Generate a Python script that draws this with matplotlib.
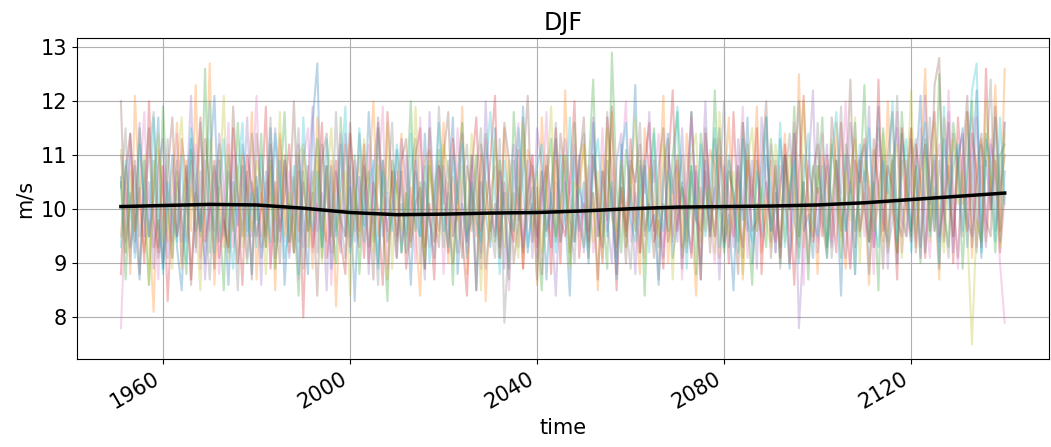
import numpy as np
import matplotlib
matplotlib.use("Agg")
from matplotlib import pyplot as plt

# DJF mean wind speed, one series per ensemble member (m/s), 1951-2140
start_year = 1951

member1 = [10.6, 9.2, 11.4, 9.8, 8.7, 10.9, 9.5, 10.2, 11.7, 8.9,
           9.9, 11.0, 9.3, 8.5, 10.4, 11.3, 9.6, 10.0, 9.0, 10.8,
           12.1, 9.4, 10.1, 8.6, 10.5, 9.7, 11.2, 10.3, 8.8, 10.6,
           9.1, 9.8, 11.5, 9.4, 10.9, 8.6, 10.1, 9.2, 11.0, 9.9,
           8.8, 11.6, 12.7, 9.3, 10.8, 8.9, 9.8, 11.2, 9.5, 10.4,
           8.3, 10.6, 9.7, 11.8, 10.1, 9.0, 10.9, 9.4, 9.9, 11.1,
           9.2, 10.3, 8.6, 10.7, 9.5, 11.4, 9.8, 9.1, 10.8, 9.6,
           10.4, 11.7, 8.8, 10.1, 9.4, 11.0, 8.5, 10.5, 9.9, 9.3,
           11.5, 9.6, 10.3, 8.9, 10.9, 9.8, 11.9, 9.2, 10.1, 9.5,
           10.7, 8.7, 10.4, 11.3, 9.4, 9.9, 8.4, 11.0, 9.6, 10.5,
           9.0, 11.6, 9.8, 9.3, 10.9, 10.1, 8.8, 11.2, 9.5, 10.3,
           12.3, 9.2, 10.8, 9.6, 9.9, 8.6, 10.7, 11.4, 9.1, 9.8,
           10.5, 9.4, 11.8, 10.1, 8.7, 10.9, 9.6, 10.4, 11.5, 9.3,
           9.9, 8.5, 10.8, 9.8, 11.7, 9.0, 10.1, 9.5, 11.0, 10.4,
           9.2, 11.3, 10.3, 8.9, 10.7, 12.0, 9.6, 9.9, 9.1, 10.8,
           10.1, 9.3, 11.2, 10.5, 8.4, 11.0, 10.3, 11.6, 9.5, 10.7,
           8.8, 10.4, 11.9, 9.8, 9.4, 10.9, 9.0, 11.4, 10.5, 9.6,
           10.7, 12.1, 9.2, 10.3, 11.0, 8.9, 11.3, 10.4, 9.5, 10.8,
           11.5, 9.3, 10.6, 12.2, 9.1, 10.9, 10.0, 11.7, 9.4, 10.7]

member2 = [9.5, 10.8, 8.8, 12.1, 10.1, 9.2, 9.8, 8.1, 11.1, 10.3,
           9.4, 10.5, 11.6, 8.9, 10.9, 9.6, 12.3, 9.1, 10.0, 12.7,
           8.6, 10.4, 9.3, 11.2, 9.8, 9.0, 11.0, 10.1, 11.8, 8.7,
           10.3, 9.5, 10.8, 8.5, 11.4, 10.0, 9.2, 10.6, 9.6, 11.1,
           10.4, 8.9, 11.7, 9.8, 9.4, 10.9, 8.2, 10.3, 11.2, 9.3,
           10.1, 11.0, 9.1, 10.5, 12.0, 9.5, 10.0, 8.7, 10.7, 10.3,
           11.4, 9.2, 10.4, 9.6, 8.4, 10.9, 11.1, 9.4, 10.1, 11.6,
           9.0, 10.6, 9.8, 11.9, 8.8, 10.5, 9.5, 11.0, 8.3, 10.3,
           10.8, 9.1, 11.5, 10.0, 9.6, 10.4, 8.9, 11.1, 10.7, 8.6,
           11.7, 10.1, 9.3, 10.9, 9.0, 12.2, 9.8, 9.4, 10.5, 11.2,
           9.1, 10.3, 8.5, 11.0, 10.0, 11.8, 9.2, 10.4, 9.5, 10.8,
           9.8, 8.8, 11.5, 10.7, 9.6, 10.1, 12.1, 9.0, 10.5, 10.9,
           9.3, 11.4, 10.0, 8.4, 10.4, 9.6, 11.1, 10.8, 9.1, 10.3,
           11.7, 9.5, 10.7, 8.7, 11.0, 10.1, 11.9, 9.2, 10.0, 10.9,
           9.4, 10.4, 11.4, 9.0, 9.8, 12.5, 9.3, 10.8, 10.3, 8.8,
           11.0, 10.5, 9.5, 11.6, 9.8, 8.9, 10.7, 11.3, 9.6, 10.3,
           8.6, 11.1, 10.4, 9.4, 12.0, 10.1, 9.2, 10.9, 10.0, 11.5,
           9.3, 10.8, 12.6, 9.6, 10.3, 8.7, 11.7, 10.7, 9.5, 11.0,
           10.1, 11.8, 9.1, 10.9, 11.3, 9.4, 10.5, 12.3, 9.6, 12.6]

member3 = [10.5, 8.7, 10.3, 9.4, 11.5, 10.0, 8.6, 10.9, 9.3, 11.9,
           10.1, 9.1, 10.7, 9.8, 8.8, 11.1, 10.4, 9.5, 12.6, 9.2,
           10.8, 10.0, 8.5, 11.0, 9.6, 11.6, 10.1, 9.0, 10.5, 9.8,
           11.4, 9.3, 10.9, 8.9, 10.3, 11.8, 9.4, 10.0, 8.4, 10.7,
           9.6, 10.4, 11.3, 9.1, 10.8, 9.8, 9.0, 11.7, 10.1, 9.5,
           11.0, 8.8, 10.3, 10.7, 9.4, 11.5, 9.8, 8.3, 10.9, 10.4,
           9.2, 10.1, 12.0, 9.6, 10.5, 8.9, 10.8, 10.0, 11.1, 9.3,
           10.3, 8.6, 10.7, 11.6, 9.5, 9.8, 11.0, 9.1, 11.4, 10.1,
           9.4, 10.9, 10.0, 8.7, 11.8, 10.4, 9.2, 10.3, 10.8, 9.6,
           8.5, 10.5, 11.3, 9.4, 10.1, 11.0, 9.0, 11.6, 9.8, 9.3,
           10.7, 12.4, 9.5, 10.0, 8.9, 12.9, 10.4, 9.2, 11.1, 10.3,
           9.6, 10.9, 8.4, 10.5, 11.5, 9.3, 10.1, 9.6, 11.0, 11.8,
           9.1, 9.8, 10.8, 8.8, 11.4, 10.4, 9.5, 12.2, 10.0, 9.2,
           10.7, 10.3, 9.4, 11.6, 9.8, 8.6, 10.9, 10.1, 9.3, 11.3,
           10.4, 9.0, 11.0, 10.0, 11.9, 9.5, 10.5, 8.7, 10.8, 10.3,
           11.7, 9.3, 10.1, 10.9, 9.1, 11.2, 10.7, 9.6, 10.3, 12.3,
           9.4, 10.5, 8.5, 11.5, 10.1, 11.0, 9.2, 11.8, 10.4, 9.5,
           10.8, 9.0, 11.3, 10.5, 9.6, 12.5, 10.0, 9.3, 11.6, 10.9,
           8.9, 10.7, 12.0, 9.8, 9.4, 11.4, 10.4, 9.2, 11.0, 11.2]

member4 = [8.8, 10.7, 11.4, 9.6, 10.4, 9.0, 12.0, 9.8, 9.2, 10.8,
           8.3, 10.1, 9.5, 11.3, 10.5, 8.7, 10.3, 11.7, 9.4, 10.0,
           10.9, 9.1, 9.8, 9.3, 11.5, 10.1, 8.6, 11.0, 10.4, 9.5,
           10.0, 11.9, 8.9, 10.5, 9.6, 10.3, 11.2, 9.2, 10.7, 8.0,
           10.8, 9.3, 10.1, 11.6, 9.1, 9.8, 10.9, 9.4, 8.8, 11.4,
           10.3, 9.6, 11.2, 9.0, 10.5, 10.0, 8.6, 11.8, 10.4, 9.5,
           10.7, 8.9, 9.8, 11.0, 11.5, 9.3, 10.1, 8.7, 10.8, 10.4,
           9.2, 11.3, 10.3, 9.5, 8.4, 10.7, 11.7, 9.6, 10.0, 10.9,
           12.1, 9.1, 10.5, 9.8, 9.4, 11.1, 8.9, 10.4, 11.0, 9.3,
           10.3, 10.8, 8.8, 11.5, 9.8, 9.5, 10.5, 12.0, 9.1, 10.1,
           9.4, 11.0, 10.0, 9.0, 11.7, 10.7, 8.5, 10.4, 9.6, 11.3,
           10.1, 9.2, 10.9, 11.6, 9.4, 9.8, 8.9, 10.7, 12.2, 9.6,
           10.4, 10.0, 9.1, 10.8, 8.7, 11.4, 10.3, 9.5, 11.0, 10.5,
           9.0, 11.8, 9.8, 9.3, 10.9, 10.1, 11.5, 8.8, 10.5, 9.6,
           10.8, 9.1, 11.2, 10.3, 8.6, 10.7, 12.1, 10.0, 9.4, 10.4,
           9.5, 11.0, 10.1, 9.2, 11.6, 9.8, 8.9, 10.9, 10.5, 11.3,
           10.3, 9.3, 12.4, 9.6, 10.8, 10.4, 8.7, 11.5, 10.0, 9.4,
           11.2, 10.5, 9.1, 11.0, 11.8, 9.5, 10.1, 10.8, 9.0, 11.7,
           10.4, 9.6, 11.4, 10.7, 9.3, 12.6, 10.0, 10.9, 9.2, 10.3]

member5 = [11.0, 10.3, 9.3, 9.8, 11.6, 9.5, 10.5, 8.9, 10.8, 11.3,
           9.1, 10.0, 10.9, 9.4, 10.3, 12.1, 9.2, 10.7, 8.7, 10.1,
           9.6, 11.4, 10.4, 9.3, 11.0, 9.0, 9.8, 11.7, 9.5, 10.4,
           8.6, 10.7, 10.1, 11.5, 9.4, 10.9, 9.1, 10.0, 11.2, 9.3,
           10.5, 11.9, 9.6, 10.3, 8.5, 10.8, 9.8, 9.2, 11.4, 10.4,
           9.4, 10.1, 11.0, 8.8, 10.7, 11.6, 9.5, 10.3, 9.8, 9.1,
           11.3, 10.5, 9.3, 10.9, 10.0, 8.7, 11.8, 10.1, 9.6, 10.8,
           9.8, 9.0, 10.4, 11.4, 9.4, 11.0, 10.3, 9.2, 12.0, 10.0,
           9.5, 10.7, 8.9, 10.4, 11.2, 10.1, 9.3, 10.9, 9.1, 11.5,
           10.8, 9.6, 10.0, 8.4, 10.5, 11.3, 10.3, 9.4, 11.0, 9.2,
           10.1, 11.7, 9.5, 10.7, 9.8, 9.0, 10.9, 11.4, 9.3, 10.4,
           8.8, 10.8, 10.3, 11.8, 9.6, 10.0, 9.1, 11.0, 10.5, 9.4,
           11.5, 9.8, 9.2, 10.7, 10.1, 12.0, 9.5, 10.4, 8.7, 10.8,
           10.3, 9.3, 11.3, 10.0, 9.6, 10.9, 8.9, 11.7, 10.4, 9.8,
           9.4, 10.5, 11.0, 9.0, 11.4, 7.8, 9.5, 10.7, 12.2, 9.2,
           10.3, 11.2, 9.4, 10.9, 10.0, 9.1, 11.6, 10.7, 9.6, 10.1,
           11.9, 9.3, 10.4, 11.0, 8.9, 10.8, 11.5, 9.8, 9.5, 11.3,
           10.5, 9.1, 12.1, 10.1, 10.9, 9.4, 10.3, 11.8, 9.2, 11.0,
           11.4, 9.8, 9.5, 11.7, 10.4, 9.3, 11.2, 10.8, 9.6, 11.6]

member6 = [12.0, 9.4, 10.1, 10.9, 8.8, 10.4, 11.5, 9.3, 9.8, 9.0,
           10.7, 11.7, 9.5, 10.0, 10.8, 8.6, 10.3, 9.6, 11.3, 10.5,
           8.9, 10.9, 9.8, 9.2, 11.9, 10.3, 9.5, 10.7, 8.7, 11.4,
           10.4, 9.3, 11.2, 10.1, 9.0, 11.0, 10.0, 12.0, 9.4, 10.5,
           9.6, 10.3, 8.4, 10.9, 11.4, 9.2, 10.7, 9.8, 9.5, 11.6,
           10.1, 9.3, 10.8, 10.0, 8.7, 11.7, 10.3, 9.6, 10.7, 9.1,
           10.9, 11.3, 9.4, 10.1, 10.4, 8.9, 11.5, 9.8, 9.3, 11.0,
           11.8, 9.5, 10.0, 9.1, 10.8, 10.3, 8.5, 11.2, 10.5, 9.6,
           10.1, 9.3, 11.6, 10.9, 9.0, 9.8, 10.7, 12.1, 9.4, 10.4,
           8.8, 11.0, 10.1, 9.5, 11.4, 10.5, 9.2, 10.0, 10.8, 11.7,
           9.6, 10.3, 8.7, 10.7, 9.8, 11.9, 9.3, 10.4, 9.0, 10.9,
           10.5, 11.2, 9.5, 10.1, 9.1, 10.8, 11.5, 9.4, 10.0, 11.0,
           8.9, 10.4, 11.8, 9.8, 9.6, 10.7, 9.2, 11.3, 10.3, 9.4,
           10.9, 10.1, 8.8, 11.6, 10.5, 9.6, 9.8, 10.8, 12.0, 9.1,
           10.3, 9.3, 11.0, 10.0, 11.4, 9.5, 10.5, 9.0, 10.7, 11.2,
           9.8, 9.1, 11.7, 10.8, 9.6, 10.3, 12.4, 9.3, 10.9, 10.0,
           9.4, 11.3, 10.4, 8.9, 11.0, 11.8, 9.8, 9.5, 10.5, 11.5,
           9.2, 10.7, 11.2, 9.6, 12.3, 12.8, 9.4, 11.6, 10.1, 9.1,
           10.9, 12.1, 9.3, 10.5, 11.4, 9.8, 9.5, 11.9, 10.3, 11.0]

member7 = [7.8, 10.0, 11.0, 9.2, 10.4, 11.8, 9.5, 10.1, 8.7, 10.8,
           10.3, 9.1, 11.4, 9.8, 9.4, 10.5, 11.2, 8.9, 10.9, 9.6,
           10.7, 8.8, 10.1, 11.6, 9.3, 9.8, 10.8, 9.1, 10.3, 12.1,
           9.5, 10.5, 9.0, 10.0, 11.3, 9.4, 10.7, 10.4, 8.7, 10.9,
           11.5, 9.2, 10.1, 9.6, 10.8, 8.6, 10.4, 11.4, 9.8, 9.3,
           10.9, 10.3, 9.1, 11.2, 9.5, 10.5, 11.9, 8.9, 10.0, 10.7,
           9.4, 11.0, 10.1, 9.0, 11.7, 9.8, 9.3, 10.4, 10.9, 8.8,
           10.5, 9.5, 11.5, 10.0, 9.2, 10.8, 9.8, 8.9, 11.3, 10.3,
           9.6, 10.7, 10.1, 8.5, 10.4, 11.6, 9.4, 9.8, 11.0, 9.1,
           10.0, 11.8, 9.3, 10.5, 9.0, 10.9, 10.3, 11.2, 9.5, 10.1,
           10.8, 9.2, 9.8, 11.5, 9.6, 10.4, 8.8, 10.7, 12.0, 9.4,
           10.3, 9.8, 9.1, 11.0, 10.5, 11.4, 9.3, 10.0, 9.5, 10.8,
           8.7, 10.4, 11.7, 10.1, 9.4, 10.9, 9.8, 9.0, 11.3, 10.7,
           10.0, 9.5, 10.5, 11.9, 9.1, 10.3, 11.0, 9.3, 9.8, 11.2,
           9.2, 10.8, 10.1, 9.6, 11.6, 10.4, 8.6, 10.9, 10.0, 9.4,
           11.4, 9.8, 9.3, 10.7, 10.3, 12.0, 9.0, 10.5, 11.0, 9.5,
           10.4, 8.8, 11.2, 10.8, 9.6, 10.1, 11.8, 9.2, 10.9, 10.3,
           9.4, 11.5, 10.0, 9.1, 10.7, 11.2, 9.5, 12.2, 10.4, 8.9,
           11.0, 10.1, 11.7, 9.3, 10.8, 9.6, 11.3, 10.5, 9.0, 7.9]

member8 = [10.4, 11.5, 9.0, 10.8, 9.5, 10.1, 11.0, 11.8, 9.1, 9.8,
           11.3, 9.4, 10.5, 9.0, 10.1, 10.9, 9.3, 11.6, 10.0, 8.7,
           10.3, 11.2, 9.5, 10.7, 10.0, 8.5, 10.8, 9.6, 11.4, 10.4,
           9.3, 10.1, 11.7, 9.1, 9.8, 10.9, 9.4, 10.5, 11.5, 8.9,
           10.0, 10.7, 9.2, 11.2, 10.3, 9.5, 11.8, 9.8, 9.1, 10.8,
           9.6, 11.4, 10.4, 9.3, 10.0, 8.6, 10.9, 10.3, 11.6, 9.4,
           10.1, 9.5, 10.7, 11.3, 9.0, 10.5, 9.8, 9.4, 11.9, 10.1,
           10.9, 10.0, 9.2, 10.4, 11.2, 9.6, 10.7, 11.5, 8.9, 9.8,
           9.1, 11.3, 7.9, 9.5, 10.3, 9.3, 11.7, 10.0, 10.4, 8.7,
           10.7, 9.6, 10.1, 11.6, 9.4, 10.5, 9.8, 9.0, 10.9, 11.4,
           9.3, 11.0, 10.3, 9.5, 11.8, 10.0, 9.1, 10.8, 9.8, 8.9,
           10.5, 11.6, 9.6, 10.1, 10.9, 8.7, 10.4, 11.3, 9.4, 10.3,
           11.0, 9.2, 10.7, 9.8, 9.0, 11.5, 10.1, 9.5, 10.5, 12.0,
           9.3, 10.0, 10.8, 9.1, 11.2, 10.4, 9.6, 10.3, 11.7, 9.4,
           10.9, 8.9, 10.5, 11.4, 9.8, 9.3, 11.0, 10.3, 9.5, 11.6,
           10.0, 10.8, 9.1, 10.1, 11.9, 9.6, 10.5, 8.8, 10.9, 11.2,
           9.4, 10.4, 11.5, 10.7, 9.2, 9.8, 12.1, 10.1, 9.5, 10.8,
           11.3, 9.3, 10.3, 11.7, 9.6, 10.9, 10.0, 9.1, 11.4, 10.7,
           9.5, 11.8, 10.4, 9.2, 11.2, 10.8, 12.4, 9.6, 10.3, 11.6]

member9 = [11.1, 9.2, 10.7, 9.6, 10.3, 11.0, 8.6, 10.5, 11.4, 9.4,
           10.0, 8.9, 10.8, 11.7, 9.5, 10.4, 9.8, 8.5, 10.7, 11.3,
           9.4, 10.3, 12.1, 9.1, 10.0, 10.8, 9.3, 10.1, 9.6, 10.9,
           10.5, 8.8, 10.4, 9.8, 11.8, 9.5, 10.3, 9.2, 11.0, 11.2,
           9.3, 10.1, 10.9, 9.0, 10.5, 11.5, 9.6, 10.0, 10.7, 8.4,
           10.4, 9.5, 11.3, 10.1, 9.2, 10.8, 9.8, 11.6, 8.9, 10.5,
           9.6, 10.3, 9.3, 11.9, 10.0, 9.1, 10.9, 10.1, 9.5, 11.2,
           10.7, 9.0, 9.8, 10.8, 9.6, 11.4, 10.4, 8.5, 10.5, 9.4,
           11.3, 10.3, 9.3, 10.9, 9.8, 9.1, 11.6, 10.1, 9.6, 10.7,
           9.2, 10.4, 11.9, 9.5, 10.0, 11.0, 8.9, 10.5, 10.3, 11.2,
           10.1, 9.4, 10.7, 9.1, 11.5, 9.8, 9.6, 10.9, 9.3, 10.4,
           11.7, 10.0, 9.0, 10.8, 10.1, 9.5, 11.2, 10.5, 8.7, 10.7,
           10.3, 9.3, 11.0, 11.4, 9.4, 10.0, 10.4, 9.2, 11.8, 9.8,
           9.5, 10.7, 10.1, 8.8, 10.9, 11.5, 9.6, 10.4, 9.8, 9.3,
           11.2, 10.3, 9.4, 11.0, 10.5, 9.1, 12.0, 10.0, 9.6, 10.8,
           10.1, 9.2, 11.3, 10.4, 9.5, 10.7, 9.8, 11.7, 9.0, 10.9,
           10.5, 9.6, 10.1, 11.4, 9.3, 10.8, 11.2, 9.1, 10.3, 12.2,
           9.5, 10.4, 11.0, 9.4, 11.6, 10.0, 9.2, 10.9, 11.3, 10.1,
           10.7, 9.6, 7.5, 9.8, 9.4, 12.0, 10.4, 11.0, 9.3, 11.4]

member10 = [9.3, 10.9, 10.0, 9.1, 11.2, 10.3, 9.5, 11.7, 10.1, 8.8,
            10.5, 9.8, 9.4, 11.0, 9.0, 11.5, 10.7, 9.6, 10.1, 12.0,
            9.2, 10.4, 11.3, 9.8, 8.9, 10.7, 11.6, 9.5, 10.3, 9.3,
            11.0, 10.1, 9.4, 11.4, 10.5, 9.1, 9.8, 10.8, 8.8, 11.7,
            10.0, 9.6, 10.7, 9.3, 11.3, 10.3, 9.5, 10.5, 11.9, 9.2,
            9.8, 11.5, 9.4, 10.4, 10.9, 8.9, 10.7, 10.0, 9.6, 11.2,
            10.4, 9.2, 11.4, 9.8, 9.5, 10.8, 9.0, 10.3, 11.6, 10.0,
            9.3, 11.0, 10.1, 11.2, 9.1, 10.5, 9.8, 9.4, 10.7, 11.8,
            10.3, 8.8, 10.9, 10.0, 9.6, 11.5, 10.4, 9.3, 10.1, 10.8,
            11.2, 9.5, 10.3, 9.2, 11.0, 9.8, 11.7, 9.4, 10.4, 10.0,
            9.1, 10.7, 11.3, 10.1, 9.5, 10.5, 8.7, 11.0, 11.6, 9.8,
            9.4, 10.3, 10.9, 9.2, 11.4, 10.0, 9.6, 10.7, 10.3, 11.9,
            10.4, 8.9, 10.8, 9.8, 11.2, 9.5, 10.5, 11.5, 9.3, 10.1,
            11.0, 10.3, 9.2, 11.3, 9.8, 9.4, 10.7, 10.1, 11.7, 9.6,
            10.0, 11.6, 9.3, 10.4, 10.9, 9.0, 10.5, 11.4, 9.8, 9.5,
            10.8, 9.1, 11.0, 11.8, 10.1, 9.6, 10.4, 8.8, 11.2, 10.5,
            11.5, 9.8, 9.3, 10.9, 10.3, 12.0, 9.4, 10.7, 11.3, 9.2,
            10.1, 11.0, 11.6, 9.5, 10.4, 9.0, 11.9, 10.0, 10.8, 11.2,
            9.6, 10.7, 12.2, 12.7, 9.2, 11.3, 10.9, 9.4, 11.7, 10.1]

members = [member1, member2, member3, member4, member5,
           member6, member7, member8, member9, member10]

# smoothed ensemble mean
smooth_years = [1951, 1960, 1970, 1980, 1990, 2000, 2010, 2020, 2030, 2040,
                2050, 2060, 2070, 2080, 2090, 2100, 2110, 2120, 2130, 2140]
smooth_vals = [10.05, 10.07, 10.09, 10.08, 10.02, 9.94, 9.90, 9.91, 9.93, 9.94,
               9.97, 10.01, 10.04, 10.05, 10.06, 10.08, 10.12, 10.18, 10.24, 10.30]

fig = plt.figure(figsize=(10.51, 4.47), dpi=100)
ax = fig.add_axes([0.073, 0.197, 0.925, 0.718])

colors = plt.rcParams['axes.prop_cycle'].by_key()['color']
for i, vals in enumerate(members):
    years = start_year + np.arange(len(vals))
    ax.plot(years, vals, color=colors[i % len(colors)], alpha=0.3, lw=1.5)

ax.plot(smooth_years, smooth_vals, color='black', lw=2.5)

ax.set_xticks([1960, 2000, 2040, 2080, 2120])
ax.set_yticks([8, 9, 10, 11, 12, 13])
ax.tick_params(labelsize=15)
for lab in ax.get_xticklabels():
    lab.set_rotation(30)
    lab.set_ha('right')
ax.grid(True)
ax.set_title('DJF', fontsize=17)
ax.set_xlabel('time', fontsize=15)
ax.set_ylabel('m/s', fontsize=15)

fig.savefig('out.png', dpi=100)
